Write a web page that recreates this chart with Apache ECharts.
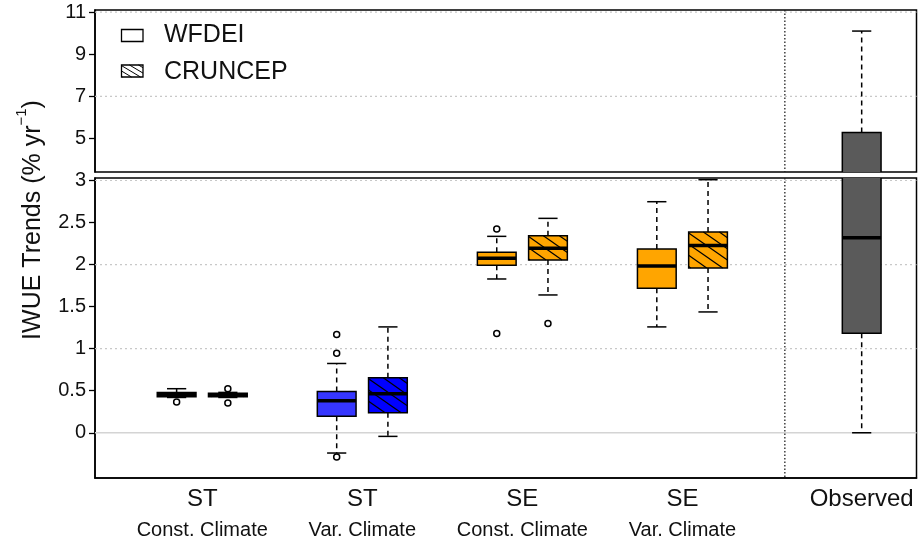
<!DOCTYPE html>
<html>
<head>
<meta charset="utf-8">
<script src="https://cdn.jsdelivr.net/npm/echarts@6/dist/echarts.min.js"></script>
<style>
  html, body { margin: 0; padding: 0; background: #fff; }
  #chart { width: 918px; height: 543px; }
</style>
</head>
<body>
<div id="chart"></div>
<script>
// Group labels along the x axis
const groupMain = ['ST', 'ST', 'SE', 'SE'];
const groupSub = ['Const. Climate', 'Var. Climate', 'Const. Climate', 'Var. Climate'];
const observedLabel = 'Observed';

// Box statistics per group: [lower whisker, Q1, median, Q3, upper whisker]
const wfdeiStats = [
  [0.42, 0.428, 0.456, 0.48, 0.524],
  [-0.241, 0.195, 0.38, 0.492, 0.824],
  [1.829, 1.992, 2.075, 2.146, 2.336],
  [1.259, 1.719, 1.983, 2.185, 2.748]
];
const cruncepStats = [
  [0.42, 0.428, 0.451, 0.47, 0.48],
  [-0.043, 0.238, 0.463, 0.653, 1.259],
  [1.639, 2.055, 2.194, 2.344, 2.55],
  [1.437, 1.96, 2.226, 2.387, 3.01]
];
const observedStats = [0, 1.184, 2.32, 5.28, 10.1];

// Outlying points per group
const wfdeiOutliers = [[0.366], [0.947, 1.169, -0.289], [2.423, 1.18], []];
const cruncepOutliers = [[0.524, 0.354], [], [1.299], []];

// Tick labels for the two panels of the broken axis
const upperTicks = [5, 7, 9, 11];
const lowerTicks = [0, 0.5, 1, 1.5, 2, 2.5, 3];

// Reference lines in each panel
const upperGuides = [11, 7];
const lowerGuides = [3, 2, 1, 0];

// Layout along the x axis (axis units)
const groupPos = [1, 2, 3, 4];
const observedPos = 5.12;
const dividerPos = 4.64;
const pairOffset = 0.16;
const boxWidth = 0.242;
const capWidth = 0.12;
const X_MIN = 0.33, X_MAX = 5.4625;

// Fill colours
const wfdeiColors = ['#3636ff', '#3636ff', '#ffa500', '#ffa500'];
const cruncepColors = ['#0000ff', '#0000ff', '#ffa500', '#ffa500'];
const observedColor = '#5a5a5a';

const FONT = '"Liberation Sans", Arial, Helvetica, sans-serif';

// Diagonal hatch segments clipped to a rectangle (lines run down to the right)
function hatchSegments(x1, y1, w, h, slope, step) {
  const x2 = x1 + w;
  const segs = [];
  const start = x1 - h / slope;
  for (let x0 = x2 - step / 2; x0 > start; x0 -= step) {
    const ca = Math.max(x0, x1), cb = Math.min(x0 + h / slope, x2);
    if (cb - ca > 0.5) {
      segs.push([ca, y1 + slope * (ca - x0), cb, y1 + slope * (cb - x0)]);
    }
  }
  return segs;
}

function boxRenderer(colors, hatched) {
  return function (params, api) {
    const x = api.value(0);
    const lo = api.value(1), q1 = api.value(2), med = api.value(3),
          q3 = api.value(4), hi = api.value(5);
    const half = api.size([boxWidth, 0])[0] / 2;
    const capHalf = api.size([capWidth, 0])[0] / 2;
    const pLo = api.coord([x, lo]), pQ1 = api.coord([x, q1]),
          pMed = api.coord([x, med]), pQ3 = api.coord([x, q3]),
          pHi = api.coord([x, hi]);
    const cx = pMed[0];
    const dash = { stroke: '#000', lineWidth: 1.5, lineDash: [5, 4] };
    const solid = { stroke: '#000', lineWidth: 1.5 };
    const children = [
      { type: 'line', shape: { x1: cx, y1: pQ3[1], x2: cx, y2: pHi[1] }, style: dash },
      { type: 'line', shape: { x1: cx, y1: pQ1[1], x2: cx, y2: pLo[1] }, style: dash },
      { type: 'line', shape: { x1: cx - capHalf, y1: pHi[1], x2: cx + capHalf, y2: pHi[1] }, style: solid },
      { type: 'line', shape: { x1: cx - capHalf, y1: pLo[1], x2: cx + capHalf, y2: pLo[1] }, style: solid },
      { type: 'rect', shape: { x: cx - half, y: pQ3[1], width: half * 2, height: pQ1[1] - pQ3[1] },
        style: { fill: colors[params.dataIndex], stroke: '#000', lineWidth: 1.5 } }
    ];
    if (hatched) {
      hatchSegments(cx - half, pQ3[1], half * 2, pQ1[1] - pQ3[1], 0.7, 16).forEach(s => {
        children.push({ type: 'line', shape: { x1: s[0], y1: s[1], x2: s[2], y2: s[3] },
          style: { stroke: '#000', lineWidth: 1.2 } });
      });
    }
    children.push({ type: 'line', shape: { x1: cx - half, y1: pMed[1], x2: cx + half, y2: pMed[1] },
      style: { stroke: '#000', lineWidth: 3.5 } });
    return { type: 'group', children: children };
  };
}

// Horizontal guides across the panel, plus the divider before the observed box
function guideRenderer(params, api) {
  const v = api.value(0);
  const a = api.coord([X_MIN, v]), b = api.coord([X_MAX, v]);
  const style = v === 0
    ? { stroke: '#d4d4d4', lineWidth: 1.3 }
    : { stroke: '#c8c8c8', lineWidth: 1.2, lineDash: [2, 3] };
  return { type: 'line', shape: { x1: a[0], y1: a[1], x2: b[0], y2: b[1] }, style: style };
}
function dividerRenderer(params, api) {
  const top = api.coord([dividerPos, api.value(1)]);
  const bottom = api.coord([dividerPos, api.value(0)]);
  return { type: 'line', shape: { x1: top[0], y1: top[1], x2: bottom[0], y2: bottom[1] },
    style: { stroke: '#222', lineWidth: 1.3, lineDash: [1.5, 2] } };
}

const wfdeiData = wfdeiStats.map((s, i) => [groupPos[i] - pairOffset].concat(s));
const cruncepData = cruncepStats.map((s, i) => [groupPos[i] + pairOffset].concat(s));
const observedData = [[observedPos].concat(observedStats)];

const outlierData = [];
wfdeiOutliers.forEach((vals, i) => vals.forEach(v => outlierData.push([groupPos[i] - pairOffset, v])));
cruncepOutliers.forEach((vals, i) => vals.forEach(v => outlierData.push([groupPos[i] + pairOffset, v])));

const UPPER_MIN = 3.41, UPPER_MAX = 11.1;
const LOWER_MIN = -0.538, LOWER_MAX = 3.03;

const chart = echarts.init(document.getElementById('chart'), null, { renderer: 'canvas' });

const yCommon = {
  type: 'value',
  axisLine: { show: true, onZero: false, lineStyle: { color: '#000', width: 1.5 } },
  axisTick: { show: true, length: 6, lineStyle: { color: '#000', width: 1.3 } },
  splitLine: { show: false },
  axisLabel: { color: '#111', fontSize: 20, fontFamily: FONT, margin: 9 }
};

chart.setOption({
  animation: false,
  backgroundColor: '#fff',
  grid: [
    { left: 95, right: 1.5, top: 10, height: 162, show: true, borderColor: '#000', borderWidth: 1.5 },
    { left: 95, right: 1.5, top: 178, height: 300, show: true, borderColor: '#000', borderWidth: 1.5 }
  ],
  xAxis: [
    { type: 'value', gridIndex: 0, min: X_MIN, max: X_MAX, show: false },
    {
      type: 'value', gridIndex: 1, min: X_MIN, max: X_MAX,
      axisLine: { show: true, onZero: false, lineStyle: { color: '#000', width: 1.5 } },
      axisTick: { show: false },
      splitLine: { show: false },
      axisLabel: {
        customValues: groupPos.concat([observedPos]),
        margin: 8,
        formatter: function (v) {
          const i = groupPos.findIndex(p => Math.abs(p - v) < 1e-6);
          if (i < 0) return '{m|' + observedLabel + '}';
          return '{m|' + groupMain[i] + '}\n{s|' + groupSub[i] + '}';
        },
        rich: {
          m: { fontSize: 24, fontFamily: FONT, color: '#111', lineHeight: 26 },
          s: { fontSize: 20, fontFamily: FONT, color: '#111', lineHeight: 36 }
        }
      }
    }
  ],
  yAxis: [
    Object.assign({}, yCommon, {
      gridIndex: 0, min: UPPER_MIN, max: UPPER_MAX,
      axisLabel: Object.assign({}, yCommon.axisLabel, { customValues: upperTicks }),
      axisTick: Object.assign({}, yCommon.axisTick, { customValues: upperTicks })
    }),
    Object.assign({}, yCommon, {
      gridIndex: 1, min: LOWER_MIN, max: LOWER_MAX,
      axisLabel: Object.assign({}, yCommon.axisLabel, { customValues: lowerTicks }),
      axisTick: Object.assign({}, yCommon.axisTick, { customValues: lowerTicks })
    })
  ],
  series: [
    { type: 'custom', xAxisIndex: 0, yAxisIndex: 0, z: 1, silent: true,
      renderItem: guideRenderer, data: upperGuides.map(v => [v]) },
    { type: 'custom', xAxisIndex: 1, yAxisIndex: 1, z: 1, silent: true,
      renderItem: guideRenderer, data: lowerGuides.map(v => [v]) },
    { type: 'custom', xAxisIndex: 0, yAxisIndex: 0, z: 2, silent: true,
      renderItem: dividerRenderer, data: [[UPPER_MIN, UPPER_MAX]] },
    { type: 'custom', xAxisIndex: 1, yAxisIndex: 1, z: 2, silent: true,
      renderItem: dividerRenderer, data: [[LOWER_MIN, LOWER_MAX]] },
    { name: 'WFDEI', type: 'custom', xAxisIndex: 1, yAxisIndex: 1, z: 3, clip: true,
      renderItem: boxRenderer(wfdeiColors, false), data: wfdeiData },
    { name: 'CRUNCEP', type: 'custom', xAxisIndex: 1, yAxisIndex: 1, z: 3, clip: true,
      renderItem: boxRenderer(cruncepColors, true), data: cruncepData },
    { name: 'Observed', type: 'custom', xAxisIndex: 0, yAxisIndex: 0, z: 3, clip: true,
      renderItem: boxRenderer([observedColor], false), data: observedData },
    { name: 'Observed', type: 'custom', xAxisIndex: 1, yAxisIndex: 1, z: 3, clip: true,
      renderItem: boxRenderer([observedColor], false), data: observedData },
    { type: 'scatter', xAxisIndex: 1, yAxisIndex: 1, z: 4, symbol: 'circle', symbolSize: 6,
      itemStyle: { color: '#fff', borderColor: '#000', borderWidth: 1.5, opacity: 1 },
      data: outlierData }
  ],
  graphic: (function () {
    const els = [];
    // axis title, reading bottom to top
    els.push({
      type: 'text', x: 30, y: 220, rotation: Math.PI / 2,
      style: {
        text: '{t|IWUE Trends (% yr}{u|−1}{t|)}',
        align: 'center', verticalAlign: 'middle',
        rich: {
          t: { fontSize: 25, fontFamily: FONT, fill: '#111', lineHeight: 32, verticalAlign: 'bottom' },
          u: { fontSize: 15, fontFamily: FONT, fill: '#111', lineHeight: 32, verticalAlign: 'top' }
        }
      }
    });
    // key
    const keyX = 121.5, keyW = 21.5, keyH = 12;
    const keyRows = [{ y: 29.5, label: 'WFDEI', textY: 35, hatch: false },
                     { y: 65, label: 'CRUNCEP', textY: 72, hatch: true }];
    keyRows.forEach(r => {
      els.push({ type: 'rect', shape: { x: keyX, y: r.y, width: keyW, height: keyH },
        style: { fill: '#fff', stroke: '#000', lineWidth: 1.3 } });
      if (r.hatch) {
        hatchSegments(keyX, r.y, keyW, keyH, 0.6, 9).forEach(s => {
          els.push({ type: 'line', shape: { x1: s[0], y1: s[1], x2: s[2], y2: s[3] },
            style: { stroke: '#000', lineWidth: 1 } });
        });
      }
      els.push({ type: 'text', x: 164, y: r.textY,
        style: { text: r.label, fontSize: 25, fontFamily: FONT, fill: '#111',
          align: 'left', verticalAlign: 'middle' } });
    });
    return els;
  })()
});
</script>
</body>
</html>
